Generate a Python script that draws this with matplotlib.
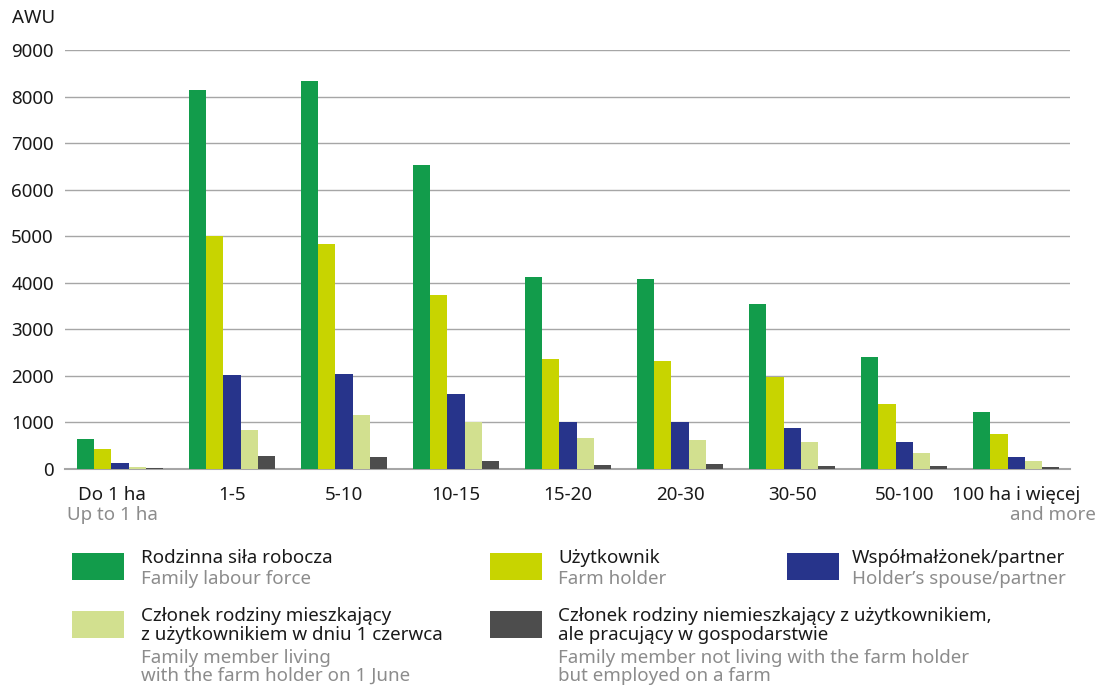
import numpy as np
import matplotlib
matplotlib.use('Agg')
import matplotlib.pyplot as plt
from matplotlib.patches import Rectangle
import matplotlib.transforms as mtransforms

plt.rcParams['font.family'] = ['Noto Sans', 'DejaVu Sans']

groups_pl = ['Do 1 ha', '1-5', '5-10', '10-15', '15-20', '20-30', '30-50', '50-100', '100 ha i więcej']

family_labour = [650, 8150, 8330, 6530, 4120, 4080, 3540, 2400, 1220]
holder = [420, 5000, 4830, 3740, 2360, 2320, 1980, 1400, 760]
spouse = [135, 2020, 2040, 1610, 1010, 1010, 880, 590, 250]
living = [45, 840, 1165, 1010, 665, 620, 590, 350, 170]
not_living = [25, 280, 260, 165, 90, 115, 72, 70, 43]

series = [family_labour, holder, spouse, living, not_living]
colors = ['#129c4b', '#c8d400', '#27348b', '#d2e08f', '#4d4d4d']
labels_pl = ['Rodzinna siła robocza', 'Użytkownik', 'Współmałżonek/partner',
             'Członek rodziny mieszkający\nz użytkownikiem w dniu 1 czerwca',
             'Członek rodziny niemieszkający z użytkownikiem,\nale pracujący w gospodarstwie']
labels_en = ['Family labour force', 'Farm holder', 'Holder’s spouse/partner',
             'Family member living\nwith the farm holder on 1 June',
             'Family member not living with the farm holder\nbut employed on a farm']

W, H = 1098, 687
fs = 13.5
fig = plt.figure(figsize=(W / 100, H / 100), dpi=100)
ax = fig.add_axes([65 / W, 1 - 469 / H, (1070 - 65) / W, (469 - 50) / H])

x = np.arange(len(groups_pl))
bw = 0.154
for i, (vals, c) in enumerate(zip(series, colors)):
    ax.bar(x + (i - 2) * bw, vals, bw, color=c, zorder=3)

ax.set_xlim(-0.49, 8.48)
ax.set_ylim(0, 9000)
ax.set_yticks(range(0, 9001, 1000))
ax.yaxis.grid(True, color='#a6a6a6', linewidth=1, zorder=0)
for s in ['top', 'right', 'left']:
    ax.spines[s].set_visible(False)
ax.spines['bottom'].set_color('#a6a6a6')
ax.spines['bottom'].set_linewidth(1.5)
ax.tick_params(axis='y', length=0, pad=8, labelsize=fs, labelcolor='#1a1a1a')
ax.tick_params(axis='x', length=0, pad=12, labelsize=fs, labelcolor='#1a1a1a')
ax.set_xticks(x)
ax.set_xticklabels(groups_pl)
first = ax.get_xticklabels()[0]
first.set_transform(first.get_transform() + mtransforms.ScaledTranslation(-0.08, 0, fig.dpi_scale_trans))

trans = mtransforms.blended_transform_factory(ax.transData, fig.transFigure)
ax.text(-0.07, 1 - 515 / H, 'Up to 1 ha', transform=trans, ha='center', va='center',
        fontsize=fs, color='#8c8c8c')
ax.text(8.71, 1 - 515 / H, 'and more', transform=trans, ha='right', va='center',
        fontsize=fs, color='#8c8c8c')

fig.text(12 / W, 1 - 18 / H, 'AWU', ha='left', va='center', fontsize=fs, color='#1a1a1a')

# legend
def px(xp, yp):
    return xp / W, 1 - yp / H

legend_pos = [(72, 553, 141), (490, 553, 558), (787, 553, 852), (72, 611, 141), (490, 611, 558)]
for (lx, ly, tx), c, lp, le in zip(legend_pos, colors, labels_pl, labels_en):
    fig.patches.append(Rectangle(px(lx, ly + 27), 52 / W, 27 / H, transform=fig.transFigure,
                                 facecolor=c, edgecolor='none'))
    npl = lp.count('\n') + 1
    fig.text(*px(tx, ly - 4), lp, ha='left', va='top', fontsize=fs, color='#1a1a1a',
             linespacing=1.05)
    fig.text(*px(tx, ly - 3 + 20.5 * npl), le, ha='left', va='top', fontsize=fs,
             color='#8c8c8c', linespacing=1.0)

fig.savefig('out.png', dpi=100)
